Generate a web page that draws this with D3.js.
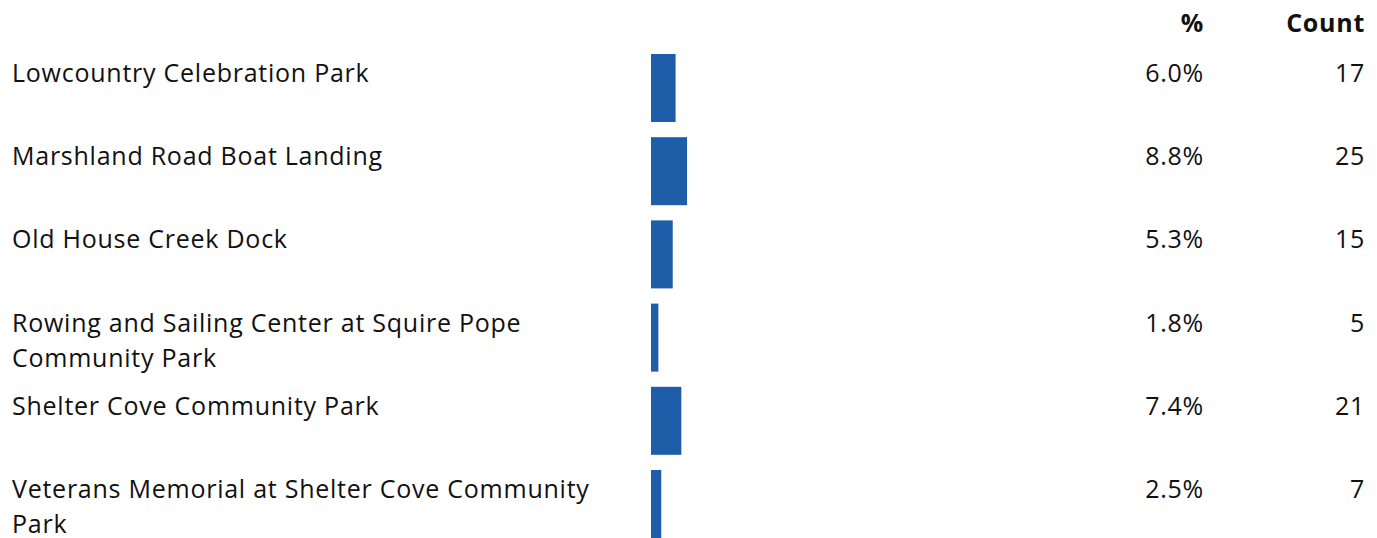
<!DOCTYPE html>
<html><head><meta charset="utf-8">
<script src="https://cdn.jsdelivr.net/npm/d3@7"></script>
<style>body{margin:0;background:#fff}svg{display:block}text{font-family:"Open Sans",sans-serif;letter-spacing:0.75px}</style>
</head><body><svg id="c" width="1377" height="538"></svg>
<script>
const categories = ["Lowcountry Celebration Park","Marshland Road Boat Landing","Old House Creek Dock","Rowing and Sailing Center at Squire Pope Community Park","Shelter Cove Community Park","Veterans Memorial at Shelter Cove Community Park"];
const percents = [6.0, 8.8, 5.3, 1.8, 7.4, 2.5];
const counts = [17, 25, 15, 5, 21, 7];
const headers = ["%", "Count"];

const svg = d3.select("#c");
const fs = 25;
const y = d3.scaleBand().domain(categories).range([54, 538]).paddingInner(15.2/83.2).paddingOuter(0).align(0);
const x = d3.scaleLinear().domain([0, 100]).range([651, 651+410]);

svg.append("text").attr("x", 1204).attr("y", 32).attr("text-anchor","end").attr("font-weight","bold").attr("font-size",fs).attr("fill","#111").text(headers[0]);
svg.append("text").attr("x", 1365).attr("y", 32).attr("text-anchor","end").attr("font-weight","bold").attr("font-size",fs).attr("fill","#111").text(headers[1]);

const maxW = 620;
categories.forEach((c,i)=>{
  const t = y(c);
  svg.append("rect").attr("x", x(0)).attr("y", t).attr("width", x(percents[i])-x(0)).attr("height", y.bandwidth()).attr("fill","#1e5da8");
  const txt = svg.append("text").attr("x", 12).attr("y", t+28).attr("font-size", fs).attr("fill","#111");
  const words = c.split(" ");
  let line = [], ts = txt.append("tspan").attr("x",12).attr("dy",0);
  words.forEach(w=>{
    line.push(w); ts.text(line.join(" "));
    if (ts.node().getComputedTextLength() > maxW && line.length>1){
      line.pop(); ts.text(line.join(" ")); line=[w];
      ts = txt.append("tspan").attr("x",12).attr("dy",35).text(w);
    }
  });
  svg.append("text").attr("x",1204).attr("y",t+28).attr("text-anchor","end").attr("font-size",fs).attr("fill","#111").text(d3.format(".1f")(percents[i])+"%");
  svg.append("text").attr("x",1365).attr("y",t+28).attr("text-anchor","end").attr("font-size",fs).attr("fill","#111").text(counts[i]);
});
</script></body></html>
